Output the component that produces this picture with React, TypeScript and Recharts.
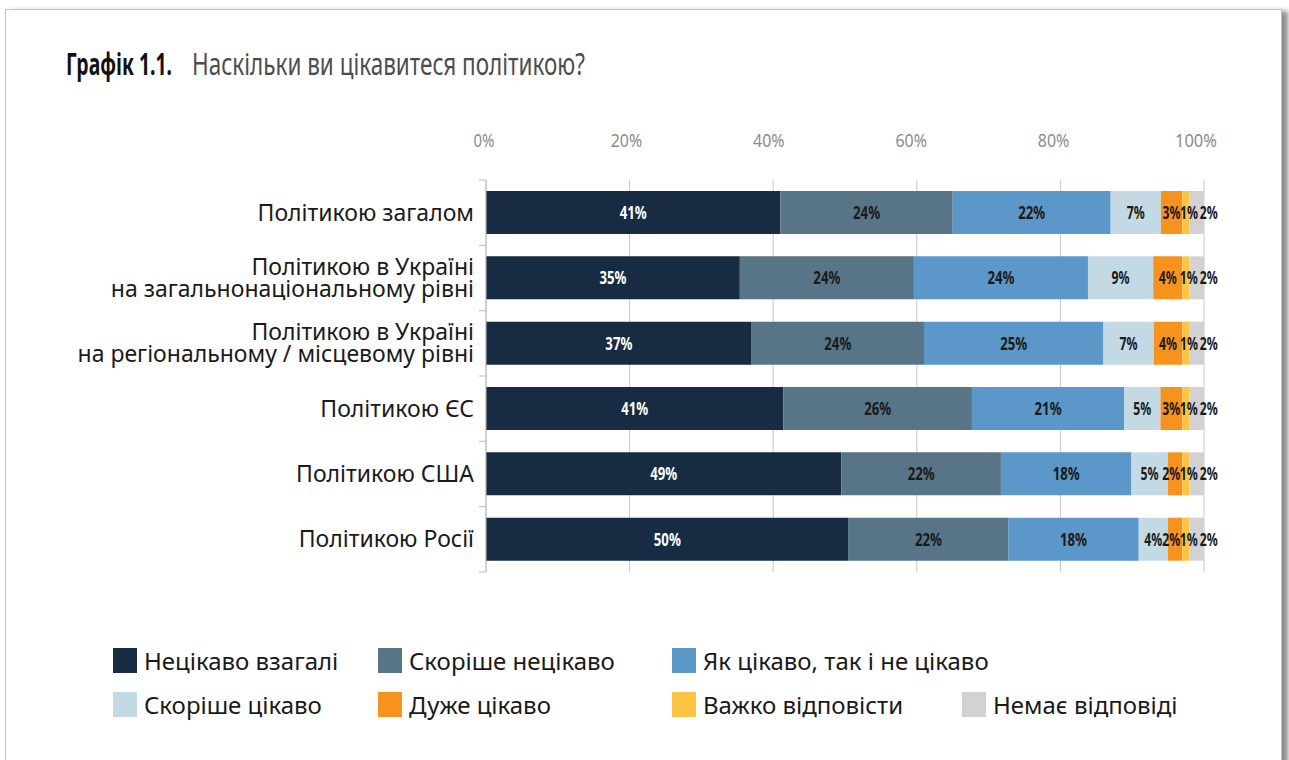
import React from 'react';
import { BarChart, Bar, XAxis, YAxis, CartesianGrid, LabelList } from 'recharts';

// categories (\n = line break in the axis label)
const categories = [
  'Політикою загалом',
  'Політикою в Україні\nна загальнонаціональному рівні',
  'Політикою в Україні\nна регіональному / місцевому рівні',
  'Політикою ЄС',
  'Політикою США',
  'Політикою Росії',
];

const notAtAll = [41, 35, 37, 41, 49, 50];
const ratherNot = [24, 24, 24, 26, 22, 22];
const neither = [22, 24, 25, 21, 18, 18];
const ratherYes = [7, 9, 7, 5, 5, 4];
const veryMuch = [3, 4, 4, 3, 2, 2];
const hardToSay = [1, 1, 1, 1, 1, 1];
const noAnswer = [2, 2, 2, 2, 2, 2];

const xTicks = [0, 0.2, 0.4, 0.6, 0.8, 1];

// dx: nudge of the value label; fit: keep label left of the next (tiny) segments
const series = [
  { key: 'Нецікаво взагалі', values: notAtAll, color: '#172c42', text: '#ffffff', dx: 0, fit: false },
  { key: 'Скоріше нецікаво', values: ratherNot, color: '#587587', text: '#1a1a1a', dx: 0, fit: false },
  { key: 'Як цікаво, так і не цікаво', values: neither, color: '#5b97c8', text: '#1a1a1a', dx: 0, fit: false },
  { key: 'Скоріше цікаво', values: ratherYes, color: '#c3dae4', text: '#1a1a1a', dx: 0, fit: false },
  { key: 'Дуже цікаво', values: veryMuch, color: '#f6921e', text: '#1a1a1a', dx: 0, fit: true },
  { key: 'Важко відповісти', values: hardToSay, color: '#fcc443', text: '#1a1a1a', dx: 3, fit: false },
  { key: 'Немає відповіді', values: noAnswer, color: '#d2d2d2', text: '#1a1a1a', dx: 12, fit: false },
];

const data = categories.map((name, i) => {
  const row: Record<string, any> = { name };
  series.forEach(s => { row[s.key] = s.values[i]; });
  return row;
});

const CHART_W = 1289;
const CHART_H = 600;
const TOP = 180;
const BOTTOM = 572;
const AXIS_X = 486;
const TICK_MARGIN = 12;
const FONT = '"Noto Sans", "Open Sans", sans-serif';

const CategoryTick = (props: any) => {
  const { x, y, payload, index } = props;
  const lines = String(payload.value).split('\n');
  const step = (BOTTOM - TOP) / categories.length;
  const lineH = 22;
  const axisX = x + TICK_MARGIN;
  const start = -((lines.length - 1) * lineH) / 2 + 8;
  return (
    <g>
      <text x={x} y={y} textAnchor="end" fill="#1a1a1a" fontSize={23} fontFamily={FONT}>
        {lines.map((l, i) => (
          <tspan key={i} x={x} dy={i === 0 ? start : lineH}>{l}</tspan>
        ))}
      </text>
      {index === 0 && <line x1={axisX - 7} x2={axisX} y1={y - step / 2} y2={y - step / 2} stroke="#bdbdbd" />}
      <line x1={axisX - 7} x2={axisX} y1={y + step / 2} y2={y + step / 2} stroke="#bdbdbd" />
    </g>
  );
};

const PercentTick = (props: any) => {
  const { x, y, payload } = props;
  const txt = `${Math.round(payload.value * 100)}%`;
  return (
    <text x={x - 2 - payload.value * 6} y={y} textAnchor="middle" fill="#8c8c8c" fontSize={18} fontFamily={FONT}
      textLength={txt.length * 10.5} lengthAdjust="spacingAndGlyphs">
      {txt}
    </text>
  );
};

const makeValueLabel = (color: string, dx: number, fit: boolean) => (props: any) => {
  const { x, y, width, height, value } = props;
  const txt = `${value}%`;
  const w = txt.length * 9;
  let cx = x + width / 2 + dx;
  if (fit) cx = Math.min(cx, x + width - 2 - w / 2);
  return (
    <text x={cx} y={y + height / 2} dy="0.36em" textAnchor="middle" fill={color}
      fontSize={18} fontWeight="bold" fontFamily={FONT} textLength={w} lengthAdjust="spacingAndGlyphs">
      {txt}
    </text>
  );
};

const legendLefts = [113, 378, 672, 113, 378, 672, 962];
const legendTops = [644, 644, 644, 688, 688, 688, 688];

export default function App() {
  return (
    <div style={{ position: 'absolute', left: 0, top: 0, width: 1289, height: 760, overflow: 'hidden', background: '#fff' }}>
      <div style={{
        position: 'absolute', left: 5, top: 9, width: 1275, height: 800,
        border: '1px solid #c4c4c4', background: '#fff', boxShadow: '6px 2px 5px rgba(0,0,0,0.45)',
      }} />
      <svg style={{ position: 'absolute', left: 0, top: 0 }} width={1200} height={100}>
        <text x={66} y={75} fontSize={30} fontWeight="bold" fill="#111" fontFamily={FONT}
          textLength={106} lengthAdjust="spacingAndGlyphs">Графік 1.1.</text>
        <text x={192} y={75} fontSize={30} fill="#4d4d4d" fontFamily={FONT}
          textLength={393} lengthAdjust="spacingAndGlyphs">Наскільки ви цікавитеся політикою?</text>
      </svg>
      <div style={{ position: 'absolute', left: 0, top: 0 }}>
        <BarChart
          width={CHART_W}
          height={CHART_H}
          data={data}
          layout="vertical"
          stackOffset="expand"
          margin={{ top: TOP - 40, right: CHART_W - 1204, left: 0, bottom: CHART_H - BOTTOM }}
        >
          <CartesianGrid horizontal={false} stroke="#c8c8c8" />
          <XAxis
            type="number"
            orientation="top"
            domain={[0, 1]}
            ticks={xTicks}
            height={40}
            axisLine={false}
            tickLine={false}
            tickSize={0}
            tickMargin={33}
            tick={<PercentTick />}
          />
          <YAxis
            type="category"
            dataKey="name"
            width={AXIS_X}
            interval={0}
            axisLine={{ stroke: '#bdbdbd' }}
            tickLine={false}
            tickSize={0}
            tickMargin={TICK_MARGIN}
            tick={<CategoryTick />}
          />
          {series.map(s => (
            <Bar key={s.key} dataKey={s.key} stackId="a" fill={s.color} barSize={43} isAnimationActive={false}>
              <LabelList dataKey={s.key} content={makeValueLabel(s.text, s.dx, s.fit)} />
            </Bar>
          ))}
        </BarChart>
      </div>
      {series.map((s, i) => (
        <div key={s.key} style={{ position: 'absolute', left: legendLefts[i], top: legendTops[i], display: 'flex', alignItems: 'center', whiteSpace: 'nowrap' }}>
          <div style={{ width: 24, height: 25, background: s.color }} />
          <span style={{ marginLeft: 7, fontSize: 24, fontFamily: FONT, color: '#1a1a1a' }}>{s.key}</span>
        </div>
      ))}
    </div>
  );
}
